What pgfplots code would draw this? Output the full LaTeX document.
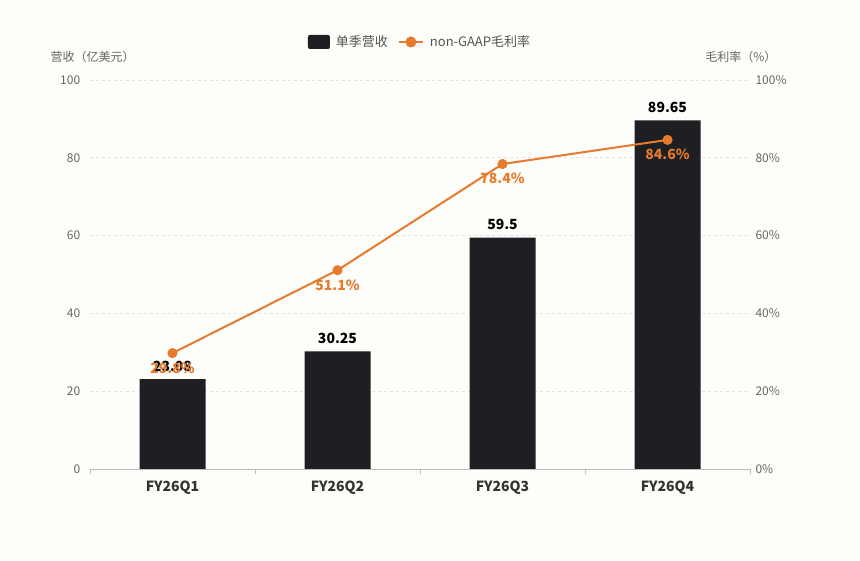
\documentclass[border=0pt]{standalone}
\usepackage{fontspec}
\setmainfont{Noto Sans CJK SC}
\usepackage{pgfplots}
\pgfplotsset{compat=1.18}
\definecolor{bg}{HTML}{FDFDF9}
\definecolor{barc}{HTML}{1E1F22}
\definecolor{linec}{HTML}{E67A2E}
\definecolor{tickc}{HTML}{666666}
\definecolor{catc}{HTML}{333333}
\definecolor{legc}{HTML}{555555}
\definecolor{gridc}{HTML}{E2E2E2}
\definecolor{axisc}{HTML}{BBBBBB}
\begin{document}
\begin{tikzpicture}[x=1pt,y=1pt]
\fill[bg] (0,0) rectangle (860,560);
\begin{axis}[
  at={(90pt,91pt)}, anchor=south west, scale only axis,
  width=660pt, height=389pt,
  xmin=-0.5, xmax=3.5, ymin=0, ymax=100,
  axis x line*=bottom, axis y line*=left,
  x axis line style={axisc, line width=0.8pt},
  y axis line style={draw=none},
  xtick={0,1,2,3},
  xticklabels={FY26Q1,FY26Q2,FY26Q3,FY26Q4},
  minor xtick={-0.5,0.5,1.5,2.5,3.5},
  major x tick style={draw=none},
  minor x tick style={axisc, line width=0.8pt},
  minor tick length=5pt,
  tick align=outside,
  ytick={0,20,40,60,80,100},
  major y tick style={draw=none},
  ymajorgrids, grid style={gridc, dashed, line width=0.6pt},
  /pgf/number format/assume math mode=true,
  yticklabel style={font=\fontsize{12}{12}\selectfont, text=tickc, xshift=-2pt},
  xticklabel style={font=\bfseries\fontsize{14}{14}\selectfont, text=catc, yshift=-4pt},
  clip=false,
  legend style={at={(0.5,1)}, yshift=38pt, anchor=center, legend columns=2,
    draw=none, fill=none, font=\fontsize{13}{13}\selectfont, text=legc,
    /tikz/every odd column/.append style={column sep=4pt},
    /tikz/every even column/.append style={column sep=8pt}},
]
\addplot[ybar, bar width=66pt, fill=barc, draw=none,
  point meta=explicit symbolic, nodes near coords,
  nodes near coords style={font=\bfseries\fontsize{14}{14}\selectfont, text=black, anchor=south, yshift=4pt},
  legend image code/.code={\fill[barc, rounded corners=2pt] (0pt,-7pt) rectangle (22pt,7pt);}]
  coordinates {(0,23.08) [23.08] (1,30.25) [30.25] (2,59.5) [59.5] (3,89.65) [89.65]};
\addlegendentry{单季营收}
\addplot[linec, line width=2pt, mark=*, mark size=4pt, mark options={fill=linec, draw=linec},
  point meta=explicit symbolic, nodes near coords,
  nodes near coords style={font=\bfseries\fontsize{14}{14}\selectfont, text=linec, anchor=north, yshift=-5pt},
  legend image code/.code={\draw[linec, line width=2pt] (0pt,0pt) -- (24pt,0pt); \fill[linec] (12pt,0pt) circle (4.5pt);}]
  coordinates {(0,29.8) [29.8\%] (1,51.1) [51.1\%] (2,78.4) [78.4\%] (3,84.6) [84.6\%]};
\addlegendentry{non-GAAP毛利率}
\end{axis}
\begin{axis}[
  at={(90pt,91pt)}, anchor=south west, scale only axis,
  width=660pt, height=389pt,
  xmin=-0.5, xmax=3.5, ymin=0, ymax=100,
  axis x line=none, axis y line*=right,
  y axis line style={draw=none},
  ytick={0,20,40,60,80,100},
  major y tick style={draw=none},
  /pgf/number format/assume math mode=true,
  yticklabel={\pgfmathprintnumber{\tick}\%},
  yticklabel style={font=\fontsize{12}{12}\selectfont, text=tickc, xshift=2pt},
]
\addplot[draw=none] coordinates {(0,0)};
\end{axis}
\node[anchor=west, font=\fontsize{12}{12}\selectfont, text=tickc] at (47,503) {营收（亿美元）};
\node[anchor=east, font=\fontsize{12}{12}\selectfont, text=tickc] at (780,503) {毛利率（\%）};
\end{tikzpicture}
\end{document}
